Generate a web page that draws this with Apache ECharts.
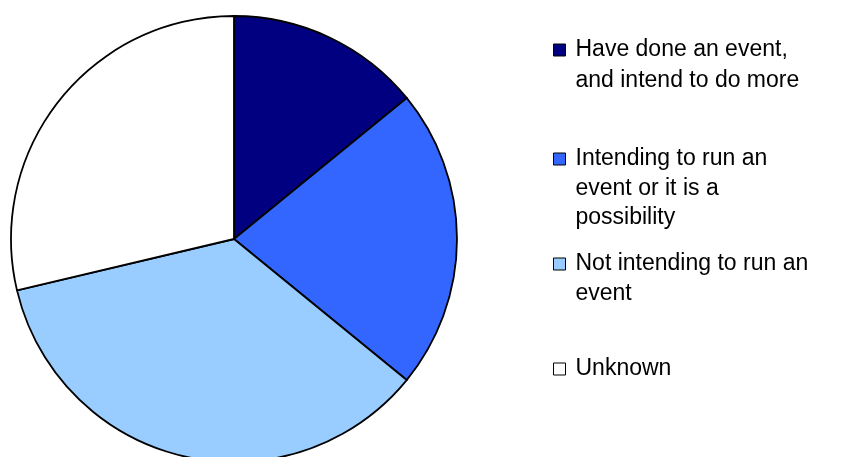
<!DOCTYPE html>
<html>
<head>
<meta charset="utf-8">
<script src="https://cdn.jsdelivr.net/npm/echarts@6/dist/echarts.min.js"></script>
<style>html,body{margin:0;padding:0;background:#fff}#c{width:841px;height:457px}</style>
</head>
<body>
<div id="c"></div>
<script>
const categories = [
  "Have done an event,\nand intend to do more",
  "Intending to run an\nevent or it is a\npossibility",
  "Not intending to run an\nevent",
  "Unknown"
];
const values = [14.1, 21.8, 35.4, 28.7];
const colors = ["#000080", "#3366FF", "#99CCFF", "#FFFFFF"];

const lineHeights = [31, 29.5, 30, 30];
const iconCenters = [50, 159, 264, 369];
const legends = categories.map((name, i) => {
  const n = name.split("\n").length;
  const LH = lineHeights[i];
  const H = (2 * n - 1) * LH;
  return {
    orient: "vertical",
    left: 553,
    top: iconCenters[i] - H / 2,
    padding: 0,
    itemWidth: 12,
    itemHeight: 12,
    icon: "rect",
    selectedMode: false,
    itemStyle: { borderColor: "#000", borderWidth: 1 },
    formatter: (nm) => "\n".repeat(n - 1) + nm,
    textStyle: {
      fontFamily: "Liberation Sans, Arial, sans-serif",
      fontSize: 23,
      lineHeight: LH,
      color: "#000",
      padding: [0, 0, 0, 5]
    },
    data: [name]
  };
});

const chart = echarts.init(document.getElementById("c"), null, { renderer: "canvas" });
chart.setOption({
  animation: false,
  backgroundColor: "#fff",
  color: colors,
  legend: legends,
  series: [{
    type: "pie",
    center: [234, 239],
    radius: 223,
    startAngle: 90,
    clockwise: true,
    label: { show: false },
    labelLine: { show: false },
    emphasis: { disabled: true },
    itemStyle: { borderColor: "#000", borderWidth: 1.8 },
    data: categories.map((name, i) => ({ name, value: values[i] }))
  }]
});
</script>
</body>
</html>
